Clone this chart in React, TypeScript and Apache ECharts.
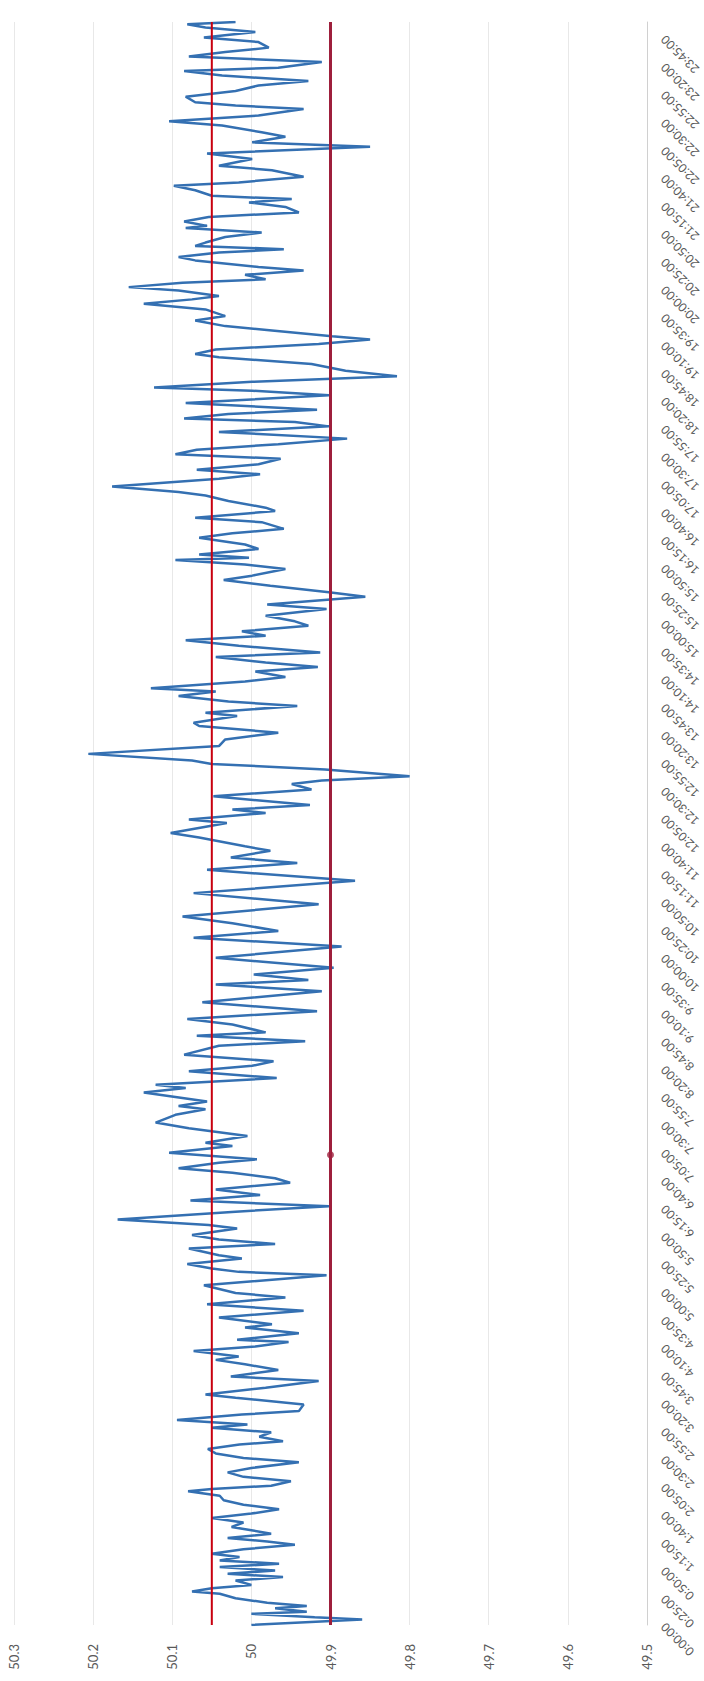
import React, { useEffect, useRef } from "react";
import * as echarts from "echarts";

// time of day in minutes after 0:00 (turning points of the trace)
const minutes = [
  0, 5, 7, 10, 12, 15, 17, 20, 24, 28, 30, 33, 36, 40, 43, 46, 49, 52, 55, 58,
  61, 64, 68, 72, 75, 78, 82, 85, 88, 92, 96, 100, 104, 108, 112, 116, 120, 122, 125, 129,
  133, 137, 141, 146, 150, 154, 158, 162, 165, 169, 173, 177, 180, 184,
  189, 192, 198, 204, 207, 213, 219, 223, 229, 234, 238, 241, 246, 250, 254, 256,
  262, 267, 270, 276, 282, 288, 294, 298, 305, 314, 317, 320, 324, 329, 332, 338,
  342, 346, 350, 356, 359, 364,
  371, 376, 381, 386, 391, 397, 401, 406, 410, 415, 418, 424, 430, 433, 439, 446,
  451, 458, 463, 466, 470, 478, 482, 485, 491, 497, 502, 506, 512, 520, 524, 529,
  532, 539, 544, 551,
  559, 569, 575, 579, 584, 590, 599, 609, 617, 623, 630, 636, 647, 657, 668, 678,
  684, 689, 695, 699, 707, 711, 720, 723, 729, 732, 736,
  744, 750, 755, 758, 762, 768, 773, 776, 782, 789, 795, 801, 807, 810, 816, 819,
  825, 829, 834, 838, 841, 847, 851, 856, 860, 864, 869, 873, 879, 884, 888, 892,
  897, 901, 906, 912, 916, 923, 927, 933, 938, 942, 948, 952, 956, 958, 961, 966,
  970, 976, 980, 984, 990, 994, 1000, 1003, 1009, 1014, 1017, 1022, 1029, 1033, 1037, 1042,
  1047, 1051, 1055, 1060, 1065, 1071, 1076, 1080, 1083, 1087, 1091, 1097,
  1104, 1108, 1111, 1116, 1121, 1126, 1132, 1138, 1141, 1145, 1150, 1154, 1157, 1162, 1166, 1171,
  1175, 1181, 1186, 1190, 1193, 1198, 1201, 1205, 1208, 1212, 1216, 1219, 1225, 1228, 1232, 1235,
  1238, 1241, 1246, 1250, 1254, 1256, 1260, 1264, 1268, 1273, 1277, 1280, 1283, 1288,
  1292, 1295, 1300, 1306, 1310, 1316, 1321, 1327, 1331, 1336, 1340, 1346, 1350, 1355, 1361, 1364,
  1367, 1372, 1377, 1382, 1386, 1391, 1395, 1398, 1403, 1408, 1412, 1416, 1421, 1425, 1430, 1434,
  1437, 1439,
];

// grid frequency, Hz
const freq = [
  50.0, 49.86, 49.92, 50.0, 49.93, 49.97, 49.93, 49.98, 50.02, 50.04, 50.075, 50.05, 50.0, 50.02, 49.96, 50.03, 49.97, 50.04, 49.965, 50.04,
  50.015, 50.05, 50.01, 49.945, 49.98, 50.03, 49.975, 50.0, 50.025, 50.01, 50.05, 50.0, 49.965, 50.01, 50.035, 50.04, 50.08, 50.05, 49.975, 49.95,
  50.01, 50.03, 50.0, 49.94, 50.01, 50.045, 50.055, 50.015, 49.96, 49.99, 49.975, 50.05, 50.005, 50.094,
  50.012, 49.94, 49.934, 50.02, 50.058, 49.982, 49.915, 50.026, 49.966, 50.008, 50.045, 50.016, 50.073, 49.995, 49.953, 50.018,
  49.94, 50.008, 49.974, 50.041, 49.934, 50.056, 49.957, 50.02, 50.06, 49.905, 50.016, 50.05, 50.081, 50.012, 50.041, 50.079,
  49.97, 50.041, 50.075, 50.018, 50.054, 50.169,
  50.02, 49.902, 50.077, 49.989, 50.045, 49.951, 49.97, 50.024, 50.092, 50.041, 49.993, 50.104, 50.024, 50.058, 50.005, 50.079,
  50.121, 50.096, 50.058, 50.092, 50.056, 50.136, 50.083, 50.121, 49.968, 50.079, 49.999, 49.972, 50.085, 50.041, 49.932, 50.069,
  49.982, 50.024, 50.081, 49.917,
  50.062, 49.911, 50.045, 49.928, 49.997, 49.896, 50.045, 49.886, 50.073, 49.966, 50.024, 50.087, 49.915, 50.073, 49.869, 50.056,
  49.942, 50.026, 49.976, 50.008, 50.066, 50.102, 50.031, 50.079, 49.982, 50.024, 49.926,
  50.048, 49.924, 49.949, 49.911, 49.8, 49.907, 50.05, 50.075, 50.206, 50.041, 50.033, 49.966, 50.066, 50.073, 50.018, 50.058,
  49.942, 50.029, 50.092, 50.045, 50.127, 50.008, 49.957, 49.995, 49.916, 49.982, 50.045, 49.913, 50.016, 50.083, 49.982, 50.012,
  49.928, 49.945, 49.982, 49.905, 49.98, 49.856, 49.902, 49.976, 50.035, 49.999, 49.957, 50.008, 50.096, 50.003, 50.066, 49.991,
  50.008, 50.066, 50.024, 49.959, 49.987, 50.071, 49.97, 49.982, 50.029, 50.058, 50.092, 50.176, 50.041, 49.989, 50.069, 49.991,
  49.963, 50.096, 50.069, 49.966, 49.879, 50.041, 49.902, 49.945, 50.085, 50.029, 49.917, 50.083,
  49.902, 49.999, 50.123, 49.999, 49.816, 49.881, 49.924, 50.041, 50.071, 50.045, 49.915, 49.85, 49.898, 49.974, 50.033, 50.071,
  50.033, 50.058, 50.136, 50.075, 50.041, 50.092, 50.155, 50.087, 49.982, 50.008, 49.934, 49.991, 50.071, 50.092, 50.041, 49.959,
  50.071, 50.058, 50.033, 49.987, 50.083, 50.056, 50.085, 50.054, 49.94, 49.957, 50.003, 49.949, 50.05, 50.071,
  50.098, 50.016, 49.934, 49.974, 50.041, 49.999, 50.056, 49.85, 49.999, 49.957, 49.987, 50.037, 50.104, 49.991, 49.934, 50.02,
  50.071, 50.083, 50.02, 49.991, 49.928, 50.037, 50.085, 49.966, 49.911, 50.079, 50.033, 49.978, 49.991, 50.06, 49.995, 50.058,
  50.081, 50.02,
];

const upperLimit = 50.05;
const lowerLimit = 49.9;
const dayStart = 0;
const dayEnd = 1439;
const markerMinute = 422;
const freqMin = 49.5;
const freqMax = 50.3;
const freqStep = 0.1;
const timeLabelStep = 25;

const fmtTime = (v: number) => {
  const m = Math.round(v);
  return `${Math.floor(m / 60)}:${String(m % 60).padStart(2, "0")}:00`;
};

export default function App() {
  const ref = useRef<HTMLDivElement>(null);
  useEffect(() => {
    if (!ref.current) return;
    const chart = echarts.init(ref.current, undefined, { renderer: "svg" });
    const trace = minutes.map((t, i) => [freq[i], t]);
    chart.setOption({
      animation: false,
      backgroundColor: "#ffffff",
      grid: { left: 14, right: 57, top: 22, bottom: 56, containLabel: false },
      xAxis: {
        type: "value",
        min: freqMin,
        max: freqMax,
        interval: freqStep,
        inverse: true,
        position: "bottom",
        axisLine: { show: false },
        axisTick: { show: false },
        splitLine: { show: true, lineStyle: { color: "#e8e8e8", width: 1 } },
        axisLabel: {
          rotate: 90,
          margin: 19,
          color: "#595959",
          fontSize: 13,
          fontFamily: "Lato, 'Open Sans', sans-serif",
        },
      },
      yAxis: {
        type: "value",
        min: dayStart,
        max: dayEnd,
        interval: timeLabelStep,
        position: "right",
        splitLine: { show: false },
        axisTick: { show: false },
        axisLine: { show: true, onZero: false, lineStyle: { color: "#d0d0d0", width: 1 } },
        axisLabel: {
          rotate: 135,
          margin: 16,
          showMaxLabel: false,
          color: "#595959",
          fontSize: 12,
          fontFamily: "Lato, 'Open Sans', sans-serif",
          formatter: fmtTime,
        },
      },
      series: [
        {
          type: "line",
          data: trace,
          showSymbol: false,
          smooth: false,
          lineStyle: { color: "#3470b2", width: 2.5 },
          z: 2,
        },
        {
          type: "line",
          data: [
            [upperLimit, dayStart],
            [upperLimit, dayEnd],
          ],
          showSymbol: false,
          lineStyle: { color: "#c8000f", width: 2 },
          z: 3,
        },
        {
          type: "line",
          data: [
            [lowerLimit, dayStart],
            [lowerLimit, dayEnd],
          ],
          showSymbol: false,
          lineStyle: { color: "#9e1f3c", width: 3 },
          z: 4,
        },
        {
          type: "scatter",
          data: [[lowerLimit, markerMinute]],
          symbol: "circle",
          symbolSize: 7,
          itemStyle: { color: "#9e1f3c" },
          z: 5,
        },
      ],
    });
    return () => chart.dispose();
  }, []);
  return (
    <div
      ref={ref}
      style={{ position: "absolute", left: 0, top: 0, width: 704, height: 1681 }}
    />
  );
}
